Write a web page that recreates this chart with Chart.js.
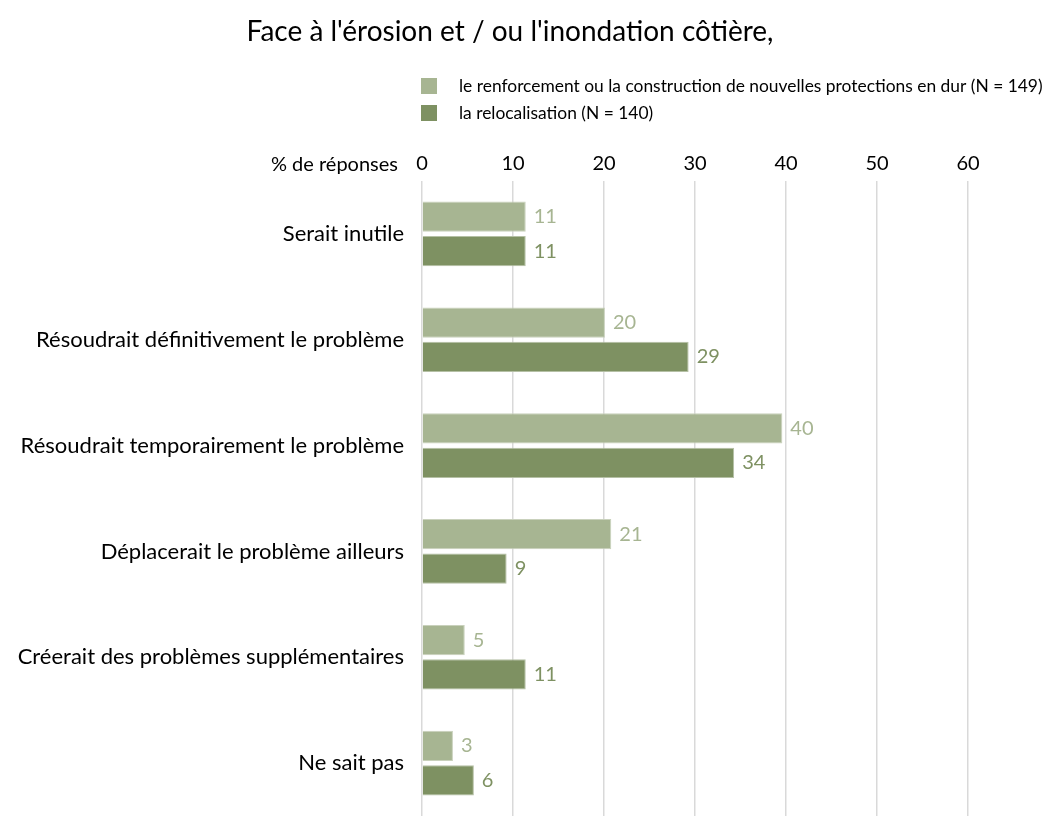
<!DOCTYPE html>
<html>
<head>
<meta charset="utf-8">
<script src="https://cdn.jsdelivr.net/npm/chart.js@4"></script>
<style>
  html, body { margin: 0; padding: 0; background: #fff; }
  #wrap { width: 1046px; height: 816px; position: relative; }
</style>
</head>
<body>
<div id="wrap"><canvas id="chart" width="1046" height="816"></canvas></div>
<script>
const categories = [
  "Serait inutile",
  "Résoudrait définitivement le problème",
  "Résoudrait temporairement le problème",
  "Déplacerait le problème ailleurs",
  "Créerait des problèmes supplémentaires",
  "Ne sait pas"
];
const protections = [11.4, 20.1, 39.6, 20.8, 4.7, 3.4];
const relocalisation = [11.4, 29.3, 34.3, 9.3, 11.4, 5.7];
const seriesNames = [
  "le renforcement ou la construction de nouvelles protections en dur (N = 149)",
  "la relocalisation (N = 140)"
];
const titleText = "Face à l'érosion et / ou l'inondation côtière,";
const axisLabel = "% de réponses";

const FONT = "Lato, 'Open Sans', sans-serif";
const lightGreen = "#a7b592";
const darkGreen = "#7e9162";

// titre, légende, étiquette d'axe et valeurs au bout des barres
const extras = {
  id: "extras",
  afterDraw(chart) {
    const ctx = chart.ctx;
    ctx.save();
    ctx.textBaseline = "middle";

    ctx.fillStyle = "#000";
    ctx.font = "28px " + FONT;
    ctx.textAlign = "center";
    ctx.fillText(titleText, 510, 32);

    ctx.font = "17.4px " + FONT;
    ctx.textAlign = "left";
    chart.data.datasets.forEach((ds, i) => {
      const y = 86 + i * 27;
      ctx.fillStyle = ds.backgroundColor;
      ctx.fillRect(421, y - 8, 16, 16);
      ctx.fillStyle = "#000";
      ctx.fillText(ds.label, 459, y);
    });

    ctx.font = "20px " + FONT;
    ctx.textAlign = "right";
    ctx.fillText(axisLabel, 398, 165);

    ctx.font = "20px " + FONT;
    ctx.textAlign = "left";
    chart.data.datasets.forEach((ds, i) => {
      const meta = chart.getDatasetMeta(i);
      meta.data.forEach((bar, j) => {
        ctx.fillStyle = ds.labelColor;
        ctx.fillText(String(Math.round(ds.data[j])), bar.x + 8, bar.y);
      });
    });
    ctx.restore();
  }
};

new Chart(document.getElementById("chart"), {
  type: "bar",
  data: {
    labels: categories,
    datasets: [
      {
        label: seriesNames[0],
        data: protections,
        backgroundColor: lightGreen,
        borderColor: "#c9d1bc",
        borderWidth: 1,
        labelColor: lightGreen,
        categoryPercentage: 0.65,
        barPercentage: 0.88
      },
      {
        label: seriesNames[1],
        data: relocalisation,
        backgroundColor: darkGreen,
        borderColor: "#b5c0a5",
        borderWidth: 1,
        labelColor: darkGreen,
        categoryPercentage: 0.65,
        barPercentage: 0.88
      }
    ]
  },
  options: {
    indexAxis: "y",
    responsive: false,
    animation: false,
    layout: { padding: { top: 140, right: 78, left: 0, bottom: 0 } },
    plugins: {
      legend: { display: false },
      title: { display: false },
      tooltip: { enabled: false }
    },
    scales: {
      x: {
        position: "top",
        min: 0,
        max: 60,
        ticks: { stepSize: 10, color: "#000", font: { size: 20, family: FONT }, padding: 5 },
        grid: { color: "#d9d9d9", lineWidth: 1.5, drawTicks: false },
        border: { display: false },
        afterFit(scale) {
          scale.height = 41;
          scale.paddingLeft = 0;
          scale.paddingRight = 0;
        }
      },
      y: {
        ticks: { color: "#000", font: { size: 22, family: FONT }, padding: 10 },
        grid: { display: false },
        border: { display: false },
        afterFit(scale) {
          scale.width = 422;
          scale.paddingTop = 0;
          scale.paddingBottom = 0;
        }
      }
    }
  },
  plugins: [extras]
});
</script>
</body>
</html>
